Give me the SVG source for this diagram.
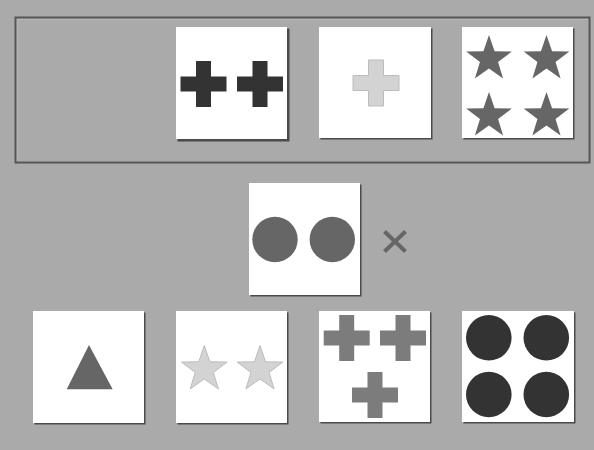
<svg xmlns="http://www.w3.org/2000/svg" xmlns:xlink="http://www.w3.org/1999/xlink" width="594" height="450" viewBox="0 0 594 450">
<style>
.bg{fill:#aaaaaa}
.frame{fill:none;stroke:#555555;stroke-width:2}
.frame2{fill:none;stroke:#bdbdbd;stroke-width:1}
.shadow{fill:#4a4a4a}
.card{fill:#ffffff}
.dark{fill:#333333}
.mid{fill:#666666}
.gray{fill:#7c7c7c}
.light{fill:#d3d3d3;stroke:#bcbcbc;stroke-width:1}
.x{stroke:#666666;stroke-width:4;stroke-linecap:butt}
</style>
<defs>
<path id="cross" d="M-7.5,-23 h15 v15.5 h15.5 v15 h-15.5 v15.5 h-15 v-15.5 h-15.5 v-15 h15.5 z"/>
<path id="star" d="M0,-24 L5.58,-7.69 L22.83,-7.42 L9.04,2.94 L14.11,19.42 L0,9.5 L-14.11,19.42 L-9.04,2.94 L-22.83,-7.42 L-5.58,-7.69 Z"/>
</defs>
<rect class="bg" x="0" y="0" width="594" height="450"/>
<g id="frame">
<rect class="frame2" x="17" y="19" width="572" height="143"/>
<rect class="frame" x="15.5" y="17.5" width="574" height="145"/>
</g>
<g id="top1">
<rect class="shadow" x="177.5" y="28.5" width="112" height="113"/>
<rect class="card" x="176" y="27" width="111" height="112"/>
<use href="#cross" class="dark" x="203.5" y="84"/>
<use href="#cross" class="dark" x="260" y="84"/>
</g>
<g id="top2">
<rect class="shadow" x="320.5" y="28.5" width="112" height="111"/>
<rect class="card" x="319" y="27" width="112" height="111"/>
<use href="#cross" class="light" x="376" y="83"/>
</g>
<g id="top3">
<rect class="shadow" x="463.5" y="28.5" width="111" height="111"/>
<rect class="card" x="462" y="27" width="111" height="111"/>
<use href="#star" class="mid" x="489" y="59"/>
<use href="#star" class="mid" x="546.5" y="59"/>
<use href="#star" class="mid" x="489" y="116"/>
<use href="#star" class="mid" x="546.5" y="116"/>
</g>
<g id="middle">
<rect class="shadow" x="250.5" y="184.5" width="111" height="112"/>
<rect class="card" x="249" y="183" width="111" height="112"/>
<circle class="mid" cx="275" cy="239.5" r="22.7"/>
<circle class="mid" cx="332.3" cy="239.5" r="22.7"/>
</g>
<g id="times">
<line class="x" x1="384.5" y1="231.5" x2="405.5" y2="251.5"/>
<line class="x" x1="405.5" y1="231.5" x2="384.5" y2="251.5"/>
</g>
<g id="bot1">
<rect class="shadow" x="34.5" y="312.5" width="111" height="112"/>
<rect class="card" x="33" y="311" width="111" height="112"/>
<polygon class="mid" points="89,345 112.7,389.3 66.7,389.3"/>
</g>
<g id="bot2">
<rect class="shadow" x="177.5" y="312.5" width="111" height="112"/>
<rect class="card" x="176" y="311" width="111" height="112"/>
<use href="#star" class="light" x="204.3" y="369.5"/>
<use href="#star" class="light" x="260" y="369.5"/>
</g>
<g id="bot3">
<rect class="shadow" x="320.5" y="312.5" width="111" height="111"/>
<rect class="card" x="319" y="311" width="111" height="111"/>
<use href="#cross" class="gray" x="346.7" y="338"/>
<use href="#cross" class="gray" x="403" y="338"/>
<use href="#cross" class="gray" x="375" y="395"/>
</g>
<g id="bot4">
<rect class="shadow" x="463.5" y="312.5" width="112" height="111"/>
<rect class="card" x="462" y="311" width="112" height="111"/>
<circle class="dark" cx="488.8" cy="337.8" r="22.8"/>
<circle class="dark" cx="546.3" cy="337.8" r="22.8"/>
<circle class="dark" cx="488.8" cy="394.5" r="22.8"/>
<circle class="dark" cx="546.3" cy="394.5" r="22.8"/>
</g>
</svg>
